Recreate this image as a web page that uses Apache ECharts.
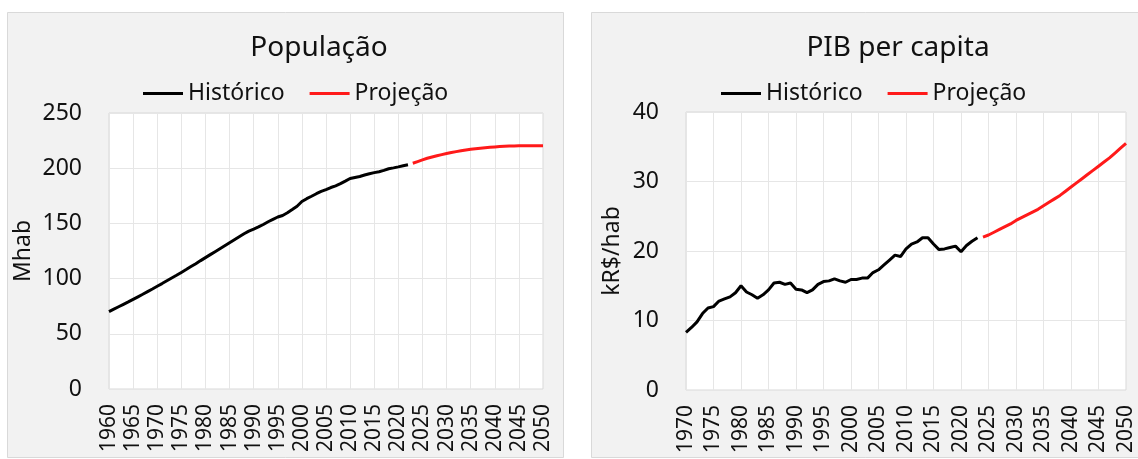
<!DOCTYPE html>
<html>
<head>
<meta charset="utf-8">
<script src="https://cdn.jsdelivr.net/npm/echarts@6/dist/echarts.min.js"></script>
<style>
html,body{margin:0;padding:0;background:#fff;}
#c{width:1138px;height:459px;}
</style>
</head>
<body>
<div id="c"></div>
<script>
// ---- Data: População (Mhab) ----
var popHistYears = [1960,1961,1962,1963,1964,1965,1966,1967,1968,1969,1970,1971,1972,1973,1974,1975,1976,1977,1978,1979,1980,1981,1982,1983,1984,1985,1986,1987,1988,1989,1990,1991,1992,1993,1994,1995,1996,1997,1998,1999,2000,2001,2002,2003,2004,2005,2006,2007,2008,2009,2010,2011,2012,2013,2014,2015,2016,2017,2018,2019,2020,2021,2022];
var popHist = [70.1,72.3,74.5,76.7,78.9,81.2,83.5,85.8,88.2,90.6,93.1,95.5,98.0,100.5,103.0,105.6,108.2,110.9,113.5,116.3,119.0,121.7,124.4,127.1,129.8,132.5,135.2,137.9,140.6,143.0,144.8,146.8,149.0,151.5,153.7,155.8,157.2,159.6,162.5,165.5,169.8,172.4,174.6,176.9,179.0,180.6,182.5,184.0,186.0,188.3,190.7,191.6,192.5,193.8,195.0,196.0,196.8,198.0,199.5,200.3,201.2,202.2,203.1];
var popProjYears = [2023,2024,2025,2026,2027,2028,2029,2030,2031,2032,2033,2034,2035,2036,2037,2038,2039,2040,2041,2042,2043,2044,2045,2046,2047,2048,2049,2050];
var popProj = [204.5,206.0,207.5,209.0,210.2,211.3,212.3,213.3,214.2,215.0,215.8,216.5,217.1,217.6,218.1,218.5,218.9,219.3,219.6,219.9,220.1,220.2,220.3,220.3,220.3,220.3,220.3,220.3];

// ---- Data: PIB per capita (kR$/hab) ----
var gdpHistYears = [1970,1971,1972,1973,1974,1975,1976,1977,1978,1979,1980,1981,1982,1983,1984,1985,1986,1987,1988,1989,1990,1991,1992,1993,1994,1995,1996,1997,1998,1999,2000,2001,2002,2003,2004,2005,2006,2007,2008,2009,2010,2011,2012,2013,2014,2015,2016,2017,2018,2019,2020,2021,2022,2023];
var gdpHist = [8.3,9.0,9.8,11.0,11.8,12.0,12.8,13.1,13.4,14.0,15.0,14.1,13.7,13.2,13.7,14.4,15.4,15.5,15.2,15.4,14.5,14.4,14.0,14.4,15.2,15.6,15.7,16.0,15.7,15.5,15.9,15.9,16.1,16.1,16.9,17.3,18.0,18.7,19.4,19.2,20.3,21.0,21.3,21.9,21.9,21.0,20.2,20.3,20.5,20.7,19.9,20.8,21.4,21.9];
var gdpProjYears = [2024,2025,2026,2027,2028,2029,2030,2031,2032,2033,2034,2035,2036,2037,2038,2039,2040,2041,2042,2043,2044,2045,2046,2047,2048,2049,2050];
var gdpProj = [22.0,22.3,22.7,23.1,23.5,23.9,24.4,24.8,25.2,25.6,26.0,26.5,27.0,27.5,28.0,28.6,29.2,29.8,30.4,31.0,31.6,32.2,32.8,33.4,34.1,34.8,35.5];

// ---- Text ----
var titles = ['População', 'PIB per capita'];
var seriesNames = ['Histórico', 'Projeção'];
var yNames = ['Mhab', 'kR$/hab'];

function pairs(xs, ys){ return xs.map(function(x,i){ return [x, ys[i]]; }); }

var FONT = 'Noto Sans';
var chart = echarts.init(document.getElementById('c'), null, {renderer:'canvas'});

function xAxisOf(idx, min){
  return {
    type:'value', gridIndex: idx, min: min, max: 2050, interval: 5,
    axisLine:{show:false}, axisTick:{show:false},
    axisLabel:{rotate:90, margin:15, fontFamily:FONT, fontSize:21, color:'#111',
      formatter: function(v){ return String(v); }},
    splitLine:{show:true, lineStyle:{color:'#e6e6e6', width:1}}
  };
}
function yAxisOf(idx, max, interval, name, gap){
  return {
    type:'value', gridIndex: idx, min:0, max:max, interval:interval,
    name: name, nameLocation:'middle', nameGap: gap, nameRotate: 90,
    nameTextStyle:{fontFamily:FONT, fontSize:23, color:'#111'},
    axisLine:{show:false}, axisTick:{show:false},
    axisLabel:{margin:27, fontFamily:FONT, fontSize:23, color:'#111'},
    splitLine:{show:true, lineStyle:{color:'#e6e6e6', width:1}}
  };
}
function lineSeries(name, idx, data, color){
  return {
    name: name, type:'line', xAxisIndex: idx, yAxisIndex: idx,
    data: data, symbol:'none', smooth:false, animation:false,
    lineStyle:{color:color, width:3}, itemStyle:{color:color}
  };
}

var option = {
  animation:false,
  backgroundColor:'#ffffff',
  graphic:[
    {type:'rect', z:-10, shape:{x:7.5, y:12.5, width:556, height:445}, style:{fill:'#f2f2f2', stroke:'#d9d9d9', lineWidth:1}},
    {type:'rect', z:-10, shape:{x:591.5, y:12.5, width:560, height:445}, style:{fill:'#f2f2f2', stroke:'#d9d9d9', lineWidth:1}}
  ],
  title:[
    {text:titles[0], left:314, top:29, textAlign:'center', textStyle:{fontFamily:FONT, fontSize:28, fontWeight:'normal', color:'#111'}},
    {text:titles[1], left:893, top:29, textAlign:'center', textStyle:{fontFamily:FONT, fontSize:28, fontWeight:'normal', color:'#111'}}
  ],
  legend:[
    {left:138, top:77, itemWidth:40, itemHeight:3, itemGap:25, icon:'rect',
      textStyle:{fontFamily:FONT, fontSize:23, color:'#111'},
      data:[{name:seriesNames[0]},{name:seriesNames[1]}]},
    {left:716, top:77, itemWidth:40, itemHeight:3, itemGap:25, icon:'rect',
      textStyle:{fontFamily:FONT, fontSize:23, color:'#111'},
      data:[{name:seriesNames[0]},{name:seriesNames[1]}]}
  ],
  grid:[
    {left:109, top:113, width:434, height:276, show:true, backgroundColor:'#ffffff', borderColor:'#d9d9d9', borderWidth:1, containLabel:false},
    {left:686, top:112, width:440, height:278, show:true, backgroundColor:'#ffffff', borderColor:'#d9d9d9', borderWidth:1, containLabel:false}
  ],
  xAxis:[xAxisOf(0,1960), xAxisOf(1,1970)],
  yAxis:[yAxisOf(0,250,50,yNames[0],74), yAxisOf(1,40,10,yNames[1],62)],
  series:[
    lineSeries(seriesNames[0], 0, pairs(popHistYears, popHist), '#000000'),
    lineSeries(seriesNames[1], 0, pairs(popProjYears, popProj), '#ff1a1a'),
    lineSeries(seriesNames[0], 1, pairs(gdpHistYears, gdpHist), '#000000'),
    lineSeries(seriesNames[1], 1, pairs(gdpProjYears, gdpProj), '#ff1a1a')
  ]
};
chart.setOption(option);
</script>
</body>
</html>
